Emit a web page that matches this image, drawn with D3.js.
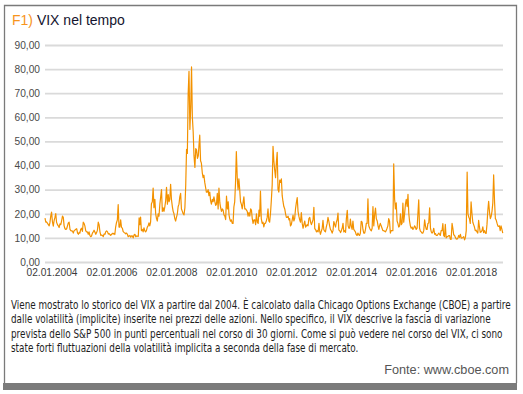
<!DOCTYPE html>
<meta charset="utf-8">
<style>
  body { margin: 0; background: #fff; }
</style>

<!-- Load d3.js -->
<script src="https://d3js.org/d3.v7.min.js"></script>

<div id="chart_vix"></div>

<script>
    // VIX values: 3 samples per month (around the 2nd, 12th and 22nd)
    var vix2004 = [18.2,16.5,16.6, 16.0,15.5,15.0, 16.3,19.0,20.7, 16.6,14.9,17.2, 18.5,20.1,16.5, 15.5,15.0,14.3,
                   15.8,15.5,17.0, 19.0,18.5,15.0, 13.8,13.5,13.8, 15.0,16.2,16.5, 13.5,13.0,12.9, 12.8,12.0,13.0];
    var vix2005 = [13.3,13.6,13.8, 12.0,11.5,12.3, 12.0,13.5,14.0, 12.7,16.5,16.0, 15.0,13.0,12.5, 12.5,11.5,12.5,
                   11.0,10.5,10.8, 12.0,12.5,13.2, 12.3,11.5,12.2, 13.2,16.5,15.5, 12.5,11.0,11.2, 11.0,10.5,11.6];
    var vix2006 = [11.5,12.6,12.9, 12.5,11.6,11.8, 11.4,11.0,11.4, 11.9,11.6,11.9, 11.4,14.5,16.3, 17.5,23.8,14.5,
                   14.5,17.5,14.5, 14.0,12.6,12.3, 12.0,11.7,12.0, 11.5,10.5,10.8, 11.0,10.3,10.8, 10.8,10.0,11.2];
    var vix2007 = [11.5,10.5,10.8, 10.7,10.6,18.3, 15.5,18.6,13.0, 13.5,12.5,14.2, 13.0,12.5,13.0, 14.5,15.0,16.2,
                   15.0,16.5,24.2, 25.0,30.7,22.5, 26.0,20.0,18.0, 17.0,20.0,19.0, 24.0,27.0,30.0, 21.0,22.5,21.0];
    var vix2008 = [23.0,25.5,31.0, 24.0,28.0,25.0, 26.0,32.2,26.0, 23.0,21.0,20.0, 18.0,17.0,18.5, 20.0,23.0,24.0,
                   27.0,28.5,22.0, 21.0,20.0,19.5, 22.5,31.7,46.7, 45.0,69.9,79.1, 55.0,64.0,80.9, 60.0,54.0,44.0];
    var vix2009 = [39.2,47.0,46.5, 43.0,44.0,49.0, 52.6,42.0,41.0, 37.0,35.0,36.0, 33.0,31.0,29.0, 29.0,30.0,27.5,
                   29.0,25.5,24.0, 26.0,25.0,27.0, 25.0,23.5,24.0, 28.5,22.0,30.7, 24.5,22.5,21.0, 22.0,21.5,19.5];
    var vix2010 = [19.0,17.6,27.3, 22.0,25.0,19.5, 18.0,16.9,17.5, 16.0,16.0,22.8, 24.9,32.8,45.8, 35.0,30.0,34.5,
                   30.0,25.0,24.0, 22.0,24.5,27.0, 22.0,22.0,21.5, 21.0,19.0,20.5, 19.0,22.0,21.5, 18.0,16.0,17.5];
    var vix2011 = [17.5,15.5,20.0, 16.5,16.0,21.5, 19.0,29.4,18.0, 16.0,16.5,14.6, 16.0,16.0,17.0, 18.5,22.0,17.0,
                   16.5,20.0,25.3, 32.0,48.0,42.0, 38.0,35.0,41.3, 45.5,30.0,29.0, 34.0,33.0,34.5, 27.5,25.0,23.0];
    var vix2012 = [22.0,20.0,18.5, 18.5,19.0,17.5, 18.0,15.0,15.5, 17.5,19.5,17.0, 18.0,22.0,24.5, 26.7,21.0,19.0,
                   17.5,16.5,20.5, 16.0,14.0,15.5, 17.0,14.5,15.0, 15.5,15.0,18.0, 18.5,16.5,15.5, 16.5,17.5,22.7];
    var vix2013 = [13.8,13.5,12.5, 13.0,12.5,16.0, 13.0,11.5,12.7, 13.9,17.3,13.5, 12.8,12.5,14.5, 16.0,18.5,17.0,
                   15.0,13.5,13.0, 12.0,13.0,16.8, 15.5,14.5,16.5, 17.5,20.3,13.3, 13.0,12.2,13.0, 14.0,16.0,12.5];
    var vix2014 = [13.0,12.3,18.0, 21.4,15.0,14.0, 14.0,17.8,15.0, 13.5,17.0,13.5, 13.0,12.5,11.4, 11.0,12.0,11.3,
                   11.0,12.0,16.9, 16.5,13.5,12.0, 12.0,13.5,16.0, 16.0,26.2,15.0, 14.0,13.3,12.9, 14.0,23.0,15.0];
    var vix2015 = [19.9,22.4,18.0, 17.0,15.0,13.5, 15.0,16.0,15.0, 14.0,13.0,13.0, 12.8,12.5,13.0, 14.0,15.0,18.0,
                   17.0,12.0,13.0, 13.0,13.0,40.7, 26.0,22.0,24.5, 17.0,16.0,14.5, 15.0,20.0,15.5, 16.0,24.4,16.5];
    var vix2016 = [20.0,24.0,26.0, 23.0,28.1,20.0, 17.0,15.0,14.0, 14.5,13.5,14.0, 15.0,14.5,13.5, 14.0,20.0,25.8,
                   14.0,12.8,12.5, 12.0,12.0,13.0, 17.5,15.0,13.5, 13.5,16.0,16.2, 22.5,14.0,12.5, 12.0,12.5,14.0];
    var vix2017 = [11.5,11.8,11.0, 11.0,11.5,12.0, 11.5,11.0,13.0, 13.0,15.9,11.0, 10.5,15.6,10.0, 10.5,10.5,11.0,
                   11.0,9.5,9.4, 16.0,14.0,11.3, 11.0,10.2,9.6, 9.5,9.9,11.0, 10.2,11.5,9.9, 10.0,10.2,10.5];
    var vix2018 = [9.2,10.2,13.0, 37.3,20.0,18.6, 18.0,16.0,24.9, 20.0,16.5,15.5, 14.5,13.0,13.2, 12.5,12.0,17.3,
                   14.5,12.3,12.5, 13.0,14.6,12.2, 13.0,12.0,11.9, 15.7,21.3,25.2, 20.5,18.0,19.0, 21.0,24.5,36.1];
    var vix2019 = [25.0,18.0,17.4, 16.0,14.9,14.8, 15.0,13.0,15.0, 13.5,12.0];

    var vixYears = [2004, 2005, 2006, 2007, 2008, 2009, 2010, 2011, 2012, 2013, 2014, 2015, 2016, 2017, 2018, 2019];
    var vixByYear = [vix2004, vix2005, vix2006, vix2007, vix2008, vix2009, vix2010, vix2011,
                     vix2012, vix2013, vix2014, vix2015, vix2016, vix2017, vix2018, vix2019];
    var sampleDays = [2, 12, 22];

    // tick labels
    var xTickYears = [2004, 2006, 2008, 2010, 2012, 2014, 2016, 2018];
    var yTicks = [0, 10, 20, 30, 40, 50, 60, 70, 80, 90];

    var title = "VIX nel tempo";
    var titleNum = "F1)";
    var noteLines = [
      "Viene mostrato lo storico del VIX a partire dal 2004. È calcolato dalla Chicago Options Exchange (CBOE) a partire",
      "dalle volatilità (implicite) inserite nei prezzi delle azioni. Nello specifico, il VIX descrive la fascia di variazione",
      "prevista dello S&P 500 in punti percentuali nel corso di 30 giorni. Come si può vedere nel corso del VIX, ci sono",
      "state forti fluttuazioni della volatilità implicita a seconda della fase di mercato."
    ];
    var source = "Fonte: www.cboe.com";

    // build the series from the yearly arrays
    var data = [];
    vixByYear.forEach(function(vals, i) {
      vals.forEach(function(v, j) {
        data.push({ date: new Date(vixYears[i], Math.floor(j / 3), sampleDays[j % 3]), value: v });
      });
    });

    var W = 523, H = 394;
    var plot = {left: 45, right: 503, top: 45, bottom: 262};

    var svg = d3.select("#chart_vix")
      .append("svg")
        .attr("width", W)
        .attr("height", H)
        .style("display", "block");

    // frame + dark bottom band
    svg.append("path")
      .attr("d", "M4.5,383V5.5H516.5V383")
      .attr("fill", "none")
      .attr("stroke", "#7a7a7a")
      .attr("stroke-width", 1.3);
    svg.append("rect")
      .attr("x", 3).attr("y", 383)
      .attr("width", 514).attr("height", 7)
      .attr("fill", "#7b7b7b");

    // title
    var t = svg.append("text")
      .attr("x", 12).attr("y", 25)
      .style("font-family", "'Liberation Sans', Arial, sans-serif")
      .style("font-size", "14px");
    t.append("tspan").attr("fill", "#f7941d").text(titleNum + " ");
    t.append("tspan").attr("fill", "#14142e").text(title);

    // scales
    var x = d3.scaleTime()
      .domain([new Date(2004, 0, 2), new Date(2019, 3, 15)])
      .range([plot.left, plot.right]);
    var y = d3.scaleLinear()
      .domain([0, 90])
      .range([plot.bottom, plot.top]);

    // horizontal gridlines with y labels
    var yAxis = svg.append("g")
      .attr("transform", "translate(" + plot.left + ",0)")
      .call(d3.axisLeft(y)
        .tickValues(yTicks)
        .tickSize(-(plot.right - plot.left))
        .tickPadding(5)
        .tickFormat(function(d) { return d3.format(".2f")(d).replace(".", ","); }));
    yAxis.select(".domain").remove();
    yAxis.selectAll("line")
      .attr("stroke", "#dadada")
      .attr("stroke-width", 1.8);
    yAxis.selectAll("text")
      .attr("fill", "#4a4a4a")
      .style("font-family", "'Liberation Sans', Arial, sans-serif")
      .style("font-size", "10.2px");

    // x labels (dates 02.01.yyyy)
    var xAxis = svg.append("g")
      .attr("transform", "translate(0," + plot.bottom + ")")
      .call(d3.axisBottom(x)
        .tickValues(xTickYears.map(function(yr) { return new Date(yr, 0, 2); }))
        .tickSize(0)
        .tickPadding(7)
        .tickFormat(d3.timeFormat("%d.%m.%Y")));
    xAxis.select(".domain").remove();
    xAxis.selectAll("text")
      .attr("dx", 6.5)
      .attr("fill", "#3a3a3a")
      .style("font-family", "'Liberation Sans', Arial, sans-serif")
      .style("font-size", "10.2px");

    // the VIX line
    svg.append("path")
      .datum(data)
      .attr("fill", "none")
      .attr("stroke", "#f39200")
      .attr("stroke-width", 1.2)
      .attr("stroke-linejoin", "round")
      .attr("d", d3.line()
        .x(function(d) { return x(d.date) })
        .y(function(d) { return y(d.value) })
      );

    // explanatory note: condensed look, squeezed so line 1 spans ~500px
    var note = svg.append("g")
      .attr("fill", "#1e1e1e")
      .style("font-family", "'DejaVu Sans Condensed', sans-serif")
      .style("font-stretch", "condensed")
      .style("font-size", "12px");
    var noteText = note.selectAll("text")
      .data(noteLines)
      .enter()
      .append("text")
        .text(function(d) { return d; });
    var squeeze = 500 / noteText.node().getComputedTextLength();
    noteText.attr("transform", function(d, i) {
      return "translate(11," + (309 + i * 14.3) + ") scale(" + squeeze + ",1)";
    });

    // source
    svg.append("text")
      .attr("x", 509).attr("y", 374)
      .attr("text-anchor", "end")
      .attr("fill", "#555")
      .style("font-family", "'Liberation Sans', Arial, sans-serif")
      .style("font-size", "12.7px")
      .text(source);
</script>
